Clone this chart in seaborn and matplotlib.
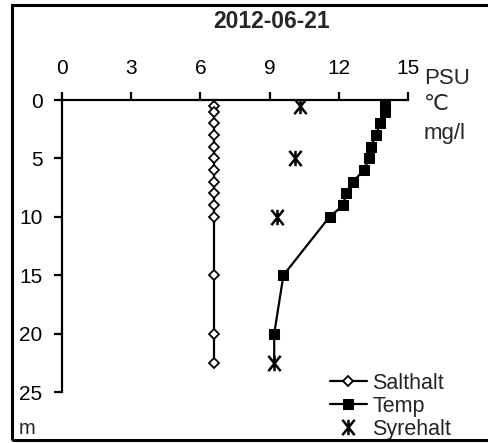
import matplotlib
matplotlib.use("Agg")
import matplotlib.pyplot as plt
from matplotlib.path import Path
from matplotlib.patches import Rectangle
import seaborn as sns
import pandas as pd

sns.set_style("white")
plt.rcParams["font.family"] = ["Liberation Sans", "DejaVu Sans"]

# Profile data: depth (m) and measured values
depth = [0.5, 1, 2, 3, 4, 5, 6, 7, 8, 9, 10, 15, 20, 22.5]
salthalt = [6.6, 6.6, 6.6, 6.6, 6.6, 6.6, 6.6, 6.6, 6.6, 6.6, 6.6, 6.6, 6.6, 6.6]
temp = [14.0, 14.0, 13.8, 13.6, 13.4, 13.3, 13.1, 12.6, 12.3, 12.2, 11.6, 9.6, 9.2, 9.2]
syre_depth = [0.5, 5, 10, 22.5]
syrehalt = [10.3, 10.1, 9.3, 9.2]

x_ticks = [0, 3, 6, 9, 12, 15]
y_ticks = [0, 5, 10, 15, 20, 25]
title = "2012-06-21"
units = ["PSU", "\u2103", "mg/l"]

W, H = 488, 443
fig = plt.figure(figsize=(W / 100, H / 100), dpi=100)
ax = fig.add_axes([62 / W, 1 - 392 / H, (408 - 62) / W, (392 - 100) / H])

df_s = pd.DataFrame({"depth": depth, "val": salthalt})
df_t = pd.DataFrame({"depth": depth, "val": temp})
df_o = pd.DataFrame({"depth": syre_depth, "val": syrehalt})

sns.lineplot(data=df_s, x="val", y="depth", orient="y", estimator=None, ax=ax,
             color="black", linewidth=1.6, marker="D", markersize=5,
             markerfacecolor="white", markeredgecolor="black", markeredgewidth=1.3,
             label="Salthalt")
sns.lineplot(data=df_t, x="val", y="depth", orient="y", estimator=None, ax=ax,
             color="black", linewidth=1.6, marker="s", markersize=6.5,
             markerfacecolor="black", markeredgecolor="black",
             markevery=list(range(len(depth) - 1)), label="Temp")

star = Path([(-0.8, -1), (0.8, 1), (-0.8, 1), (0.8, -1), (0, -1), (0, 1)],
            [Path.MOVETO, Path.LINETO, Path.MOVETO, Path.LINETO, Path.MOVETO, Path.LINETO])
sns.lineplot(data=df_o, x="val", y="depth", orient="y", estimator=None, ax=ax,
             color="black", linestyle="none", marker=star, markersize=11,
             markerfacecolor="black", markeredgecolor="black",
             markeredgewidth=1.8, label="Syrehalt")

ax.set_xlim(0, 15)
ax.set_ylim(25, 0)
ax.set_xticks(x_ticks)
ax.set_yticks(y_ticks)
ax.xaxis.tick_top()
ax.set_xlabel("")
ax.set_ylabel("")
for s in ["right", "bottom"]:
    ax.spines[s].set_visible(False)
for s in ["top", "left"]:
    ax.spines[s].set_visible(True)
    ax.spines[s].set_linewidth(1.6)
    ax.spines[s].set_color("black")
ax.tick_params(axis="both", direction="out", length=6, width=1.6, colors="black",
               labelsize=15)
ax.tick_params(axis="x", top=True, bottom=False, pad=10)
ax.tick_params(axis="y", left=True, pad=8)
ax.set_facecolor("none")

fig.text(272 / W, 1 - 21 / H, title, ha="center", va="center",
         fontsize=16.5, fontweight="bold")
for txt, yy in zip(units, [79, 104, 134]):
    fig.text(424 / W, 1 - yy / H, txt, ha="left", va="center", fontsize=16)
fig.text(19 / W, 1 - 429 / H, "m", ha="left", va="center", fontsize=14.5)

leg = ax.legend(loc="lower right", bbox_to_anchor=(451 / W, 1 - 440 / H),
                bbox_transform=fig.transFigure, frameon=False, fontsize=15.5,
                handlelength=1.7, handletextpad=0.25, labelspacing=0.1,
                borderpad=0, borderaxespad=0)

fig.patches.append(Rectangle((12 / W, 1 - 440 / H), 1.0, (440 - 5) / H,
                             transform=fig.transFigure, fill=False,
                             edgecolor="black", linewidth=2.2))

fig.savefig("out.png", dpi=100)
